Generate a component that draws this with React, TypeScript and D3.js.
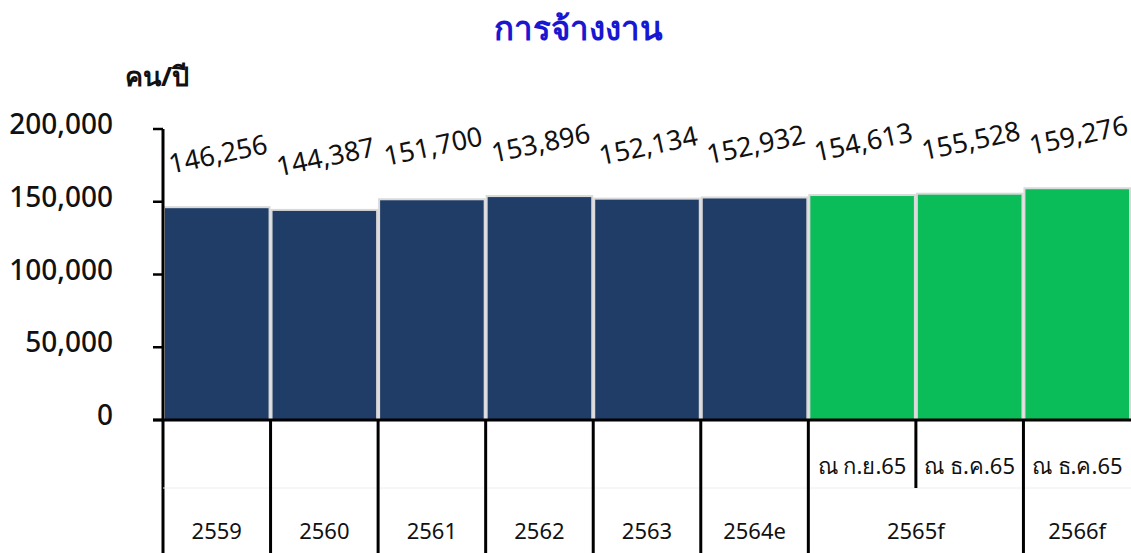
import React from "react";
import * as d3 from "d3";

const categories = ["2559", "2560", "2561", "2562", "2563", "2564e", "2565f-1", "2565f-2", "2566f"];
const values = [146256, 144387, 151700, 153896, 152134, 152932, 154613, 155528, 159276];
const isForecast = [false, false, false, false, false, false, true, true, true];
const subLabels = ["", "", "", "", "", "", "ณ ก.ย.65", "ณ ธ.ค.65", "ณ ธ.ค.65"];
const yearGroups = [
  { label: "2559", from: 0, to: 0 },
  { label: "2560", from: 1, to: 1 },
  { label: "2561", from: 2, to: 2 },
  { label: "2562", from: 3, to: 3 },
  { label: "2563", from: 4, to: 4 },
  { label: "2564e", from: 5, to: 5 },
  { label: "2565f", from: 6, to: 7 },
  { label: "2566f", from: 8, to: 8 },
];
const yTicks = [0, 50000, 100000, 150000, 200000];

const W = 1131;
const H = 553;
const FONT = "Tahoma, 'Noto Sans', 'DejaVu Sans', sans-serif";

export default function App() {
  const x = d3.scaleBand<string>().domain(categories).range([163, 1131]).padding(0);
  const y = d3.scaleLinear().domain([0, 200000]).range([420, 129]);
  const fmt = d3.format(",");
  const bw = x.bandwidth();
  const axisY = y(0);

  return (
    <svg
      width={W}
      height={H}
      style={{ position: "absolute", left: 0, top: 0, background: "#fff" }}
      fontFamily={FONT}
    >
      <text x={578} y={40} textAnchor="middle" fontSize={33} fontWeight="bold" fill="#1818d2">
        การจ้างงาน
      </text>
      <text x={157} y={86} textAnchor="middle" fontSize={27} fontWeight="bold" fill="#111">
        คน/ปี
      </text>

      {/* bars */}
      {categories.map((c, i) => (
        <rect
          key={c}
          x={x(c)! + 1}
          y={y(values[i])}
          width={bw - 2}
          height={axisY - y(values[i])}
          fill={isForecast[i] ? "#0abd59" : "#1f3d66"}
          stroke="#d9d9d9"
          strokeWidth={2}
        />
      ))}

      {/* value labels */}
      {categories.map((c, i) => {
        const cx = x(c)! + bw / 2 + 1;
        const cy = y(values[i]) - 54;
        return (
          <text
            key={"v" + c}
            transform={`translate(${cx},${cy}) rotate(-12)`}
            textAnchor="middle"
            dominantBaseline="central"
            fontSize={27}
            fill="#111"
          >
            {fmt(values[i])}
          </text>
        );
      })}

      {/* y axis */}
      <line x1={163} x2={163} y1={y(200000)} y2={H} stroke="#000" strokeWidth={3} />
      {yTicks.map((t) => (
        <g key={t}>
          <line x1={153} x2={163} y1={y(t)} y2={y(t)} stroke="#000" strokeWidth={2.5} />
          <text
            x={113}
            y={y(t)}
            textAnchor="end"
            dominantBaseline="central"
            fontSize={28}
            fontWeight={500}
            fill="#111"
            dy={-6}
          >
            {fmt(t)}
          </text>
        </g>
      ))}

      {/* x axis line */}
      <line x1={153} x2={W} y1={axisY} y2={axisY} stroke="#000" strokeWidth={3} />

      {/* table grid */}
      <line x1={163} x2={W} y1={488} y2={488} stroke="#eeeeee" strokeWidth={1} />
      {categories.slice(1).map((c, i) => {
        const bx = x(c)!;
        const inGroup = yearGroups.some((g) => g.from < i + 1 && g.to >= i + 1);
        return (
          <line
            key={"g" + c}
            x1={bx}
            x2={bx}
            y1={axisY}
            y2={inGroup ? 488 : H}
            stroke="#000"
            strokeWidth={3}
          />
        );
      })}

      {/* sub labels */}
      {categories.map((c, i) =>
        subLabels[i] ? (
          <text
            key={"s" + c}
            x={x(c)! + bw / 2}
            y={465}
            textAnchor="middle"
            dominantBaseline="central"
            fontSize={22}
            fill="#111"
          >
            {subLabels[i]}
          </text>
        ) : null
      )}

      {/* year labels */}
      {yearGroups.map((g) => {
        const x0 = x(categories[g.from])!;
        const x1 = x(categories[g.to])! + bw;
        return (
          <text
            key={"y" + g.label}
            x={(x0 + x1) / 2}
            y={530}
            textAnchor="middle"
            dominantBaseline="central"
            fontSize={22}
            fill="#111"
          >
            {g.label}
          </text>
        );
      })}
    </svg>
  );
}
